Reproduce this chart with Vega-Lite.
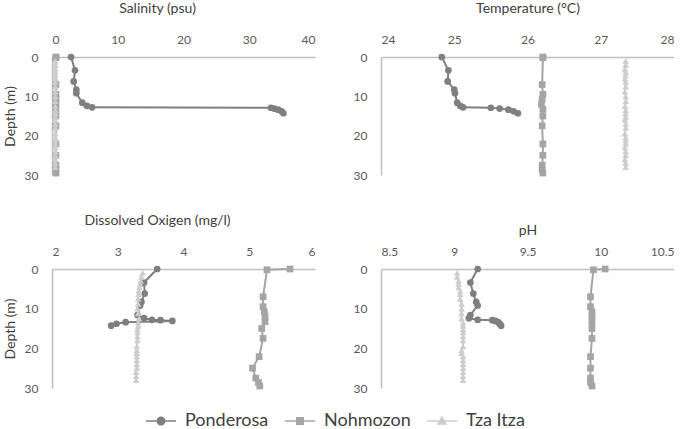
{
  "$schema": "https://vega.github.io/schema/vega-lite/v6.json",
  "padding": {"left": 3, "top": 1, "right": 0, "bottom": 0},
  "config": {
    "font": "Lato",
    "view": {"stroke": null},
    "axis": {"domainColor": "#bfbfbf", "domainWidth": 1.5, "ticks": false, "grid": false, "labelColor": "#595959", "titleColor": "#404040", "labelFontSize": 12, "titleFontSize": 14, "titleFontWeight": "normal", "labelPadding": 11},
    "axisY": {"labelPadding": 14, "titlePadding": 7},
    "axisX": {"titlePadding": 18},
    "legend": {"labelFontSize": 18, "labelColor": "#404040", "layout": {"bottom": {"anchor": "middle"}}}
  },
  "bounds": "flush",
  "columns": 2,
  "spacing": {"row": 94, "column": 66},
  "data": {"values": [
    {"site": "Ponderosa", "depth": 0, "salinity": 2.9, "temperature": 24.83, "oxygen": 3.6, "ph": 9.16},
    {"site": "Ponderosa", "depth": 3.4, "salinity": 3.5, "temperature": 24.92, "oxygen": 3.4, "ph": 9.11},
    {"site": "Ponderosa", "depth": 6.2, "salinity": 3.3, "temperature": 24.91, "oxygen": 3.41, "ph": 9.13},
    {"site": "Ponderosa", "depth": 8.3, "salinity": 3.7, "temperature": 25.0, "oxygen": 3.36, "ph": 9.15},
    {"site": "Ponderosa", "depth": 9.2, "salinity": 3.7, "temperature": 25.01, "oxygen": 3.34, "ph": 9.16},
    {"site": "Ponderosa", "depth": 11.6, "salinity": 4.6, "temperature": 25.04, "oxygen": 3.3, "ph": 9.11},
    {"site": "Ponderosa", "depth": 12.4, "salinity": 5.3, "temperature": 25.08, "oxygen": 3.4, "ph": 9.1},
    {"site": "Ponderosa", "depth": 12.8, "salinity": 6.1, "temperature": 25.12, "oxygen": 3.52, "ph": 9.16},
    {"site": "Ponderosa", "depth": 12.9, "salinity": 33.3, "temperature": 25.5, "oxygen": 3.65, "ph": 9.26},
    {"site": "Ponderosa", "depth": 13.1, "salinity": 33.8, "temperature": 25.62, "oxygen": 3.83, "ph": 9.28},
    {"site": "Ponderosa", "depth": 13.4, "salinity": 34.4, "temperature": 25.74, "oxygen": 3.12, "ph": 9.3},
    {"site": "Ponderosa", "depth": 13.8, "salinity": 34.9, "temperature": 25.81, "oxygen": 2.98, "ph": 9.31},
    {"site": "Ponderosa", "depth": 14.3, "salinity": 35.2, "temperature": 25.87, "oxygen": 2.9, "ph": 9.32},
    {"site": "Nohmozon", "depth": 0, "salinity": 0.6, "temperature": 26.21, "oxygen": 5.62, "ph": 10.03},
    {"site": "Nohmozon", "depth": 0.2, "salinity": 0.6, "temperature": 26.21, "oxygen": 5.27, "ph": 9.95},
    {"site": "Nohmozon", "depth": 7.0, "salinity": 0.6, "temperature": 26.2, "oxygen": 5.21, "ph": 9.93},
    {"site": "Nohmozon", "depth": 9.5, "salinity": 0.6, "temperature": 26.21, "oxygen": 5.21, "ph": 9.93},
    {"site": "Nohmozon", "depth": 10.8, "salinity": 0.6, "temperature": 26.2, "oxygen": 5.23, "ph": 9.94},
    {"site": "Nohmozon", "depth": 12.0, "salinity": 0.6, "temperature": 26.19, "oxygen": 5.24, "ph": 9.94},
    {"site": "Nohmozon", "depth": 13.3, "salinity": 0.6, "temperature": 26.21, "oxygen": 5.24, "ph": 9.94},
    {"site": "Nohmozon", "depth": 15.0, "salinity": 0.6, "temperature": 26.21, "oxygen": 5.19, "ph": 9.94},
    {"site": "Nohmozon", "depth": 17.5, "salinity": 0.6, "temperature": 26.2, "oxygen": 5.21, "ph": 9.94},
    {"site": "Nohmozon", "depth": 22.1, "salinity": 0.6, "temperature": 26.21, "oxygen": 5.15, "ph": 9.93},
    {"site": "Nohmozon", "depth": 25.0, "salinity": 0.6, "temperature": 26.21, "oxygen": 5.05, "ph": 9.93},
    {"site": "Nohmozon", "depth": 27.5, "salinity": 0.6, "temperature": 26.2, "oxygen": 5.1, "ph": 9.93},
    {"site": "Nohmozon", "depth": 28.6, "salinity": 0.6, "temperature": 26.2, "oxygen": 5.14, "ph": 9.93},
    {"site": "Nohmozon", "depth": 29.5, "salinity": 0.6, "temperature": 26.21, "oxygen": 5.16, "ph": 9.94},
    {"site": "Tza Itza", "depth": 1.0, "salinity": 0.5, "temperature": 27.34, "oxygen": 3.38, "ph": 9.02},
    {"site": "Tza Itza", "depth": 2.0, "salinity": 0.5, "temperature": 27.34, "oxygen": 3.36, "ph": 9.02},
    {"site": "Tza Itza", "depth": 3.0, "salinity": 0.5, "temperature": 27.33, "oxygen": 3.35, "ph": 9.03},
    {"site": "Tza Itza", "depth": 3.8, "salinity": 0.5, "temperature": 27.34, "oxygen": 3.34, "ph": 9.03},
    {"site": "Tza Itza", "depth": 4.6, "salinity": 0.5, "temperature": 27.34, "oxygen": 3.33, "ph": 9.03},
    {"site": "Tza Itza", "depth": 5.5, "salinity": 0.5, "temperature": 27.33, "oxygen": 3.32, "ph": 9.04},
    {"site": "Tza Itza", "depth": 6.3, "salinity": 0.5, "temperature": 27.34, "oxygen": 3.32, "ph": 9.04},
    {"site": "Tza Itza", "depth": 7.5, "salinity": 0.5, "temperature": 27.34, "oxygen": 3.31, "ph": 9.04},
    {"site": "Tza Itza", "depth": 8.8, "salinity": 0.5, "temperature": 27.33, "oxygen": 3.31, "ph": 9.05},
    {"site": "Tza Itza", "depth": 10.0, "salinity": 0.5, "temperature": 27.34, "oxygen": 3.3, "ph": 9.05},
    {"site": "Tza Itza", "depth": 11.2, "salinity": 0.5, "temperature": 27.34, "oxygen": 3.31, "ph": 9.05},
    {"site": "Tza Itza", "depth": 12.5, "salinity": 0.5, "temperature": 27.33, "oxygen": 3.32, "ph": 9.05},
    {"site": "Tza Itza", "depth": 13.5, "salinity": 0.5, "temperature": 27.34, "oxygen": 3.31, "ph": 9.06},
    {"site": "Tza Itza", "depth": 14.3, "salinity": 0.5, "temperature": 27.34, "oxygen": 3.31, "ph": 9.06},
    {"site": "Tza Itza", "depth": 15.2, "salinity": 0.5, "temperature": 27.34, "oxygen": 3.3, "ph": 9.06},
    {"site": "Tza Itza", "depth": 16.0, "salinity": 0.5, "temperature": 27.33, "oxygen": 3.3, "ph": 9.06},
    {"site": "Tza Itza", "depth": 17.0, "salinity": 0.5, "temperature": 27.34, "oxygen": 3.3, "ph": 9.06},
    {"site": "Tza Itza", "depth": 18.0, "salinity": 0.5, "temperature": 27.34, "oxygen": 3.3, "ph": 9.06},
    {"site": "Tza Itza", "depth": 19.5, "salinity": 0.5, "temperature": 27.33, "oxygen": 3.29, "ph": 9.06},
    {"site": "Tza Itza", "depth": 20.5, "salinity": 0.5, "temperature": 27.34, "oxygen": 3.29, "ph": 9.05},
    {"site": "Tza Itza", "depth": 21.2, "salinity": 0.5, "temperature": 27.34, "oxygen": 3.29, "ph": 9.05},
    {"site": "Tza Itza", "depth": 22.0, "salinity": 0.5, "temperature": 27.34, "oxygen": 3.29, "ph": 9.06},
    {"site": "Tza Itza", "depth": 23.0, "salinity": 0.5, "temperature": 27.33, "oxygen": 3.29, "ph": 9.06},
    {"site": "Tza Itza", "depth": 24.0, "salinity": 0.5, "temperature": 27.34, "oxygen": 3.29, "ph": 9.06},
    {"site": "Tza Itza", "depth": 25.0, "salinity": 0.5, "temperature": 27.34, "oxygen": 3.29, "ph": 9.06},
    {"site": "Tza Itza", "depth": 26.0, "salinity": 0.5, "temperature": 27.33, "oxygen": 3.28, "ph": 9.06},
    {"site": "Tza Itza", "depth": 27.0, "salinity": 0.5, "temperature": 27.34, "oxygen": 3.28, "ph": 9.06},
    {"site": "Tza Itza", "depth": 28.0, "salinity": 0.5, "temperature": 27.34, "oxygen": 3.28, "ph": 9.06}
  ]},
  "concat": [
    {
      "width": 263, "height": 118,
      "encoding": {
        "x": {"field": "salinity", "type": "quantitative", "scale": {"domain": [0, 40], "nice": false, "zero": false}, "axis": {"orient": "top", "values": [0, 10, 20, 30, 40], "title": "Salinity (psu)", "titleX": 105}},
        "y": {"field": "depth", "type": "quantitative", "scale": {"domain": [0, 30], "reverse": true, "nice": false}, "axis": {"values": [0, 10, 20, 30], "title": "Depth (m)"}},
        "color": {"field": "site", "type": "nominal", "sort": null, "scale": {"domain": ["Ponderosa", "Nohmozon", "Tza Itza"], "range": ["#7f7f7f", "#a5a5a5", "#cdcdcd"]}}
      },
      "layer": [
        {"mark": {"type": "line", "strokeWidth": 2}, "encoding": {"order": {"field": "depth", "type": "quantitative"},
          "color": {"field": "site", "type": "nominal", "sort": null, "legend": {"orient": "bottom", "direction": "horizontal", "title": null, "symbolSize": 100, "symbolStrokeWidth": 1.5, "labelOffset": 15, "columnPadding": 13,
            "encode": {"symbols": {"update": {
              "shape": {"signal": "datum.value === 'Ponderosa' ? 'M-3,0H3M-0.75,0A0.75,0.75,0,1,1,0.75,0A0.75,0.75,0,1,1,-0.75,0Z' : datum.value === 'Nohmozon' ? 'M-3,0H3M-0.65,-0.65H0.65V0.65H-0.65Z' : 'M-3,0H3M0,-0.8L0.8,0.6H-0.8Z'"},
              "fill": {"signal": "datum.value === 'Ponderosa' ? '#7f7f7f' : datum.value === 'Nohmozon' ? '#a5a5a5' : '#cdcdcd'"},
              "stroke": {"signal": "datum.value === 'Ponderosa' ? '#7f7f7f' : datum.value === 'Nohmozon' ? '#a5a5a5' : '#cdcdcd'"},
              "opacity": {"value": 1}
            }}}}}}},
        {"mark": {"type": "point", "filled": true, "size": 45, "opacity": 1, "shape": {"expr": "datum.site === 'Ponderosa' ? 'circle' : datum.site === 'Nohmozon' ? 'square' : 'triangle-up'"}}}
      ]
    },
    {
      "width": 293, "height": 118,
      "encoding": {
        "x": {"field": "temperature", "type": "quantitative", "scale": {"domain": [24, 28], "nice": false, "zero": false}, "axis": {"orient": "top", "values": [24, 25, 26, 27, 28], "title": "Temperature (°C)"}},
        "y": {"field": "depth", "type": "quantitative", "scale": {"domain": [0, 30], "reverse": true, "nice": false}, "axis": {"values": [0, 10, 20, 30], "title": null}},
        "color": {"field": "site", "type": "nominal", "sort": null}
      },
      "layer": [
        {"mark": {"type": "line", "strokeWidth": 2}, "encoding": {"order": {"field": "depth", "type": "quantitative"}}},
        {"mark": {"type": "point", "filled": true, "size": 45, "opacity": 1, "shape": {"expr": "datum.site === 'Ponderosa' ? 'circle' : datum.site === 'Nohmozon' ? 'square' : 'triangle-up'"}}}
      ]
    },
    {
      "width": 263, "height": 119,
      "encoding": {
        "x": {"field": "oxygen", "type": "quantitative", "scale": {"domain": [2, 6], "nice": false, "zero": false}, "axis": {"orient": "top", "values": [2, 3, 4, 5, 6], "title": "Dissolved Oxigen (mg/l)", "titleX": 105}},
        "y": {"field": "depth", "type": "quantitative", "scale": {"domain": [0, 30], "reverse": true, "nice": false}, "axis": {"values": [0, 10, 20, 30], "title": "Depth (m)"}},
        "color": {"field": "site", "type": "nominal", "sort": null}
      },
      "layer": [
        {"mark": {"type": "line", "strokeWidth": 2}, "encoding": {"order": {"field": "depth", "type": "quantitative"}}},
        {"mark": {"type": "point", "filled": true, "size": 45, "opacity": 1, "shape": {"expr": "datum.site === 'Ponderosa' ? 'circle' : datum.site === 'Nohmozon' ? 'square' : 'triangle-up'"}}}
      ]
    },
    {
      "width": 293, "height": 119,
      "encoding": {
        "x": {"field": "ph", "type": "quantitative", "scale": {"domain": [8.5, 10.5], "nice": false, "zero": false}, "axis": {"orient": "top", "values": [8.5, 9, 9.5, 10, 10.5], "format": "~g", "title": "pH", "titlePadding": 8}},
        "y": {"field": "depth", "type": "quantitative", "scale": {"domain": [0, 30], "reverse": true, "nice": false}, "axis": {"values": [0, 10, 20, 30], "title": null}},
        "color": {"field": "site", "type": "nominal", "sort": null}
      },
      "layer": [
        {"mark": {"type": "line", "strokeWidth": 2}, "encoding": {"order": {"field": "depth", "type": "quantitative"}}},
        {"mark": {"type": "point", "filled": true, "size": 45, "opacity": 1, "shape": {"expr": "datum.site === 'Ponderosa' ? 'circle' : datum.site === 'Nohmozon' ? 'square' : 'triangle-up'"}}}
      ]
    }
  ]
}
